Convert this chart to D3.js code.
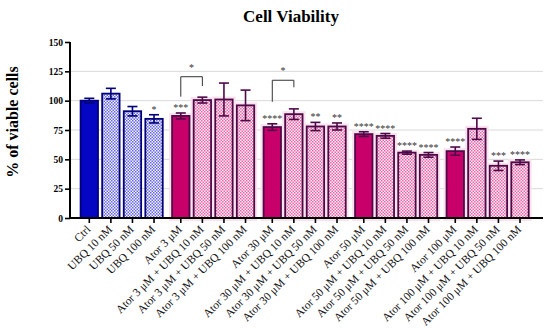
<!DOCTYPE html>
<html><head><meta charset="utf-8">
<script src="https://cdn.jsdelivr.net/npm/d3@7"></script>
<style>body{margin:0;background:#fff}svg{display:block}</style>
</head><body><svg id="c" width="550" height="330"></svg>
<script>
const categories = ["Ctrl","UBQ 10 nM","UBQ 50 nM","UBQ 100 nM",
 "Ator 3 μM","Ator 3 μM + UBQ 10 nM","Ator 3 μM + UBQ 50 nM","Ator 3 μM + UBQ 100 nM",
 "Ator 30 μM","Ator 30 μM + UBQ 10 nM","Ator 30 μM + UBQ 50 nM","Ator 30 μM + UBQ 100 nM",
 "Ator 50 μM","Ator 50 μM + UBQ 10 nM","Ator 50 μM + UBQ 50 nM","Ator 50 μM + UBQ 100 nM",
 "Ator 100 μM","Ator 100 μM + UBQ 10 nM","Ator 100 μM + UBQ 50 nM","Ator 100 μM + UBQ 100 nM"];
const groupOf = [0,0,0,0,1,1,1,1,2,2,2,2,3,3,3,3,4,4,4,4];
const kinds = ["ctrl","ubq","ubq","ubq","ator","combo","combo","combo","ator","combo","combo","combo","ator","combo","combo","combo","ator","combo","combo","combo"];
const means = [100,106,91,84.5,87,100.5,101,96,77.5,88.5,78,78,71.5,70,55.7,53.8,57,76,44.5,47.5];
const sds   = [2,4.5,4,3.5,2.5,2.5,14,13,2.8,4.5,3.5,3,2,2,1.3,2,3.5,9,4,2];
const sig   = ["","","","*","***","","","","****","","**","**","****","****","****","****","****","","***","****"];
const brackets = [{a:4,b:5,level:120.4,leftEnd:103.4,rightEnd:112.5,label:"*"},
                  {a:8,b:9,level:117.4,leftEnd:99.1,rightEnd:111.4,label:"*"}];
const yTicks = [0,25,50,75,100,125,150];
const gridVals = [25,50,75,100,125];

const svg = d3.select("#c");
const font = "'Liberation Serif','Times New Roman',serif";
const defs = svg.append("defs");
function checker(id, c1, c2){
  const p = defs.append("pattern").attr("id",id).attr("patternUnits","userSpaceOnUse")
    .attr("width",3).attr("height",3);
  p.append("rect").attr("width",3).attr("height",3).attr("fill",c1);
  p.append("rect").attr("x",0).attr("y",0).attr("width",1.5).attr("height",1.5).attr("fill",c2);
  p.append("rect").attr("x",1.5).attr("y",1.5).attr("width",1.5).attr("height",1.5).attr("fill",c2);
}
checker("pBlue","#f2f2ff","#6a6ae0");
checker("pPink","#ffeaf5","#e66aaa");

const style = {
  ctrl:{fill:"#0505c4",stroke:"#00007a"},
  ubq:{fill:"url(#pBlue)",stroke:"#00007a"},
  ator:{fill:"#c8006a",stroke:"#4e0a48"},
  combo:{fill:"url(#pPink)",stroke:"#4e0a48"}
};

const y = d3.scaleLinear().domain([0,150]).range([218,42]);
const gapFrac = 0.24;
const pos = categories.map((c,i)=> i + groupOf[i]*gapFrac);
const x = d3.scaleLinear().domain([0, d3.max(pos)]).range([89.3, 520]);
const bw = 17.4;

svg.append("g").selectAll("line").data(gridVals).join("line")
  .attr("x1",70).attr("x2",543).attr("y1",d=>y(d)).attr("y2",d=>y(d))
  .attr("stroke","#d9d9d9").attr("stroke-width",1);

svg.append("g").selectAll("rect").data(d3.range(categories.length).filter(i=>groupOf[i]>0)).join("rect")
  .attr("x",i=>x(pos[i])-bw/2).attr("width",bw)
  .attr("y",i=>y(means[i])).attr("height",i=>y(0)-y(means[i]))
  .attr("fill","none").attr("stroke","#fbe2ef").attr("stroke-width",6);

svg.append("g").selectAll("rect").data(d3.range(categories.length)).join("rect")
  .attr("x",i=>x(pos[i])-bw/2).attr("width",bw)
  .attr("y",i=>y(means[i])).attr("height",i=>y(0)-y(means[i]))
  .attr("fill",i=>style[kinds[i]].fill).attr("stroke",i=>style[kinds[i]].stroke).attr("stroke-width",1.8);

const eb = svg.append("g");
d3.range(categories.length).forEach(i=>{
  const cx = x(pos[i]), col = style[kinds[i]].stroke;
  const hi = y(means[i]+sds[i]), lo = y(means[i]-sds[i]);
  eb.append("line").attr("x1",cx).attr("x2",cx).attr("y1",hi).attr("y2",lo).attr("stroke",col).attr("stroke-width",1.6);
  eb.append("line").attr("x1",cx-5).attr("x2",cx+5).attr("y1",hi).attr("y2",hi).attr("stroke",col).attr("stroke-width",1.6);
  eb.append("line").attr("x1",cx-5).attr("x2",cx+5).attr("y1",lo).attr("y2",lo).attr("stroke",col).attr("stroke-width",1.6);
});

svg.append("g").selectAll("text").data(d3.range(categories.length).filter(i=>sig[i])).join("text")
  .attr("x",i=>x(pos[i])).attr("y",i=>y(means[i]+sds[i])-2)
  .attr("text-anchor","middle").attr("font-family",font).attr("font-size",10)
  .attr("fill","#333").text(i=>sig[i]);

brackets.forEach(b=>{
  const xa = x(pos[b.a]), xb = x(pos[b.b]);
  svg.append("path").attr("d",`M${xa},${y(b.leftEnd)}V${y(b.level)}H${xb}V${y(b.rightEnd)}`)
    .attr("fill","none").attr("stroke","#333").attr("stroke-width",1);
  svg.append("text").attr("x",(xa+xb)/2).attr("y",y(b.level)-6).attr("text-anchor","middle")
    .attr("font-family",font).attr("font-size",10).attr("fill","#333").text(b.label);
});

const yAxis = svg.append("g").attr("transform","translate(70,0)")
  .call(d3.axisLeft(y).tickValues(yTicks).tickSize(5).tickPadding(2));
yAxis.select(".domain").attr("stroke","#000").attr("stroke-width",2).attr("d","M0,42V219");
yAxis.selectAll(".tick line").attr("stroke","#000").attr("stroke-width",1.6);
yAxis.selectAll(".tick text").attr("font-family",font).attr("font-size",9.5).attr("font-weight","bold").attr("fill","#000");

const xAxis = svg.append("g").attr("transform","translate(0,218)");
xAxis.append("line").attr("x1",69).attr("x2",543).attr("y1",0).attr("y2",0).attr("stroke","#000").attr("stroke-width",2);
xAxis.selectAll("line.t").data(d3.range(categories.length)).join("line").attr("class","t")
  .attr("x1",i=>x(pos[i])).attr("x2",i=>x(pos[i])).attr("y1",0).attr("y2",5)
  .attr("stroke","#000").attr("stroke-width",1.6);
xAxis.selectAll("text.l").data(d3.range(categories.length)).join("text").attr("class","l")
  .attr("transform",i=>`translate(${x(pos[i])+2},${12}) rotate(-45)`)
  .attr("text-anchor","end").attr("font-family",font).attr("font-size",11.5).attr("fill","#111")
  .text(i=>categories[i]);

svg.append("text").attr("x",291).attr("y",22).attr("text-anchor","middle")
  .attr("font-family",font).attr("font-size",17).attr("font-weight","bold").text("Cell Viability");
svg.append("text").attr("transform","translate(18,122) rotate(-90)").attr("text-anchor","middle")
  .attr("font-family",font).attr("font-size",16).attr("font-weight","bold").text("% of viable cells");
</script></body></html>
